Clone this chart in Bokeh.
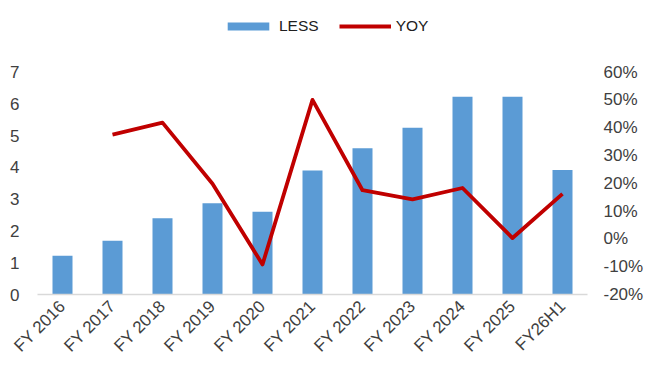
from bokeh.plotting import figure
from bokeh.models import (ColumnDataSource, Range1d, LinearAxis, FactorRange,
                          Legend, LegendItem, PrintfTickFormatter, FixedTicker)
from bokeh.embed import file_html
from bokeh.resources import INLINE

categories = ["FY 2016", "FY 2017", "FY 2018", "FY 2019", "FY 2020", "FY 2021",
              "FY 2022", "FY 2023", "FY 2024", "FY 2025", "FY26H1"]
less = [1.22, 1.69, 2.40, 2.87, 2.60, 3.90, 4.60, 5.25, 6.22, 6.22, 3.92]
yoy_cats = categories[1:]
yoy = [37.5, 41.8, 19.8, -9.2, 50.0, 17.5, 14.2, 18.3, 0.3, 16.2]
left_ticks = [0, 1, 2, 3, 4, 5, 6, 7]
right_ticks = [-20, -10, 0, 10, 20, 30, 40, 50, 60]

FONT = "Liberation Sans"
TXT = "#404040"

# frame spans the full top; the tick ranges occupy the lower 224 px of 296
ext = 296 / 224
p = figure(width=646, height=365, x_range=FactorRange(*categories, range_padding=0),
           y_range=Range1d(0, 7 * ext), output_backend="svg", toolbar_location=None,
           min_border_left=37, min_border_right=57, min_border_top=0, min_border_bottom=69)
p.x_range.factor_padding = 0
p.extra_y_ranges = {"yoy": Range1d(-20, -20 + 80 * ext)}

bar_src = ColumnDataSource(dict(x=categories, top=less))
line_src = ColumnDataSource(dict(x=yoy_cats, y=yoy))

bars = p.vbar(x="x", top="top", width=0.4, source=bar_src, color="#5B9BD5", line_color=None)
line = p.line(x="x", y="y", source=line_src, y_range_name="yoy", color="#C00000",
              line_width=3.8, line_join="round")

p.outline_line_color = None
p.xgrid.visible = False
p.ygrid.visible = False
p.background_fill_color = "white"
p.border_fill_color = "white"

# left axis
ya = p.yaxis[0]
ya.ticker = FixedTicker(ticks=left_ticks)
ya.axis_line_color = None
ya.major_tick_line_color = None
ya.minor_tick_line_color = None
ya.major_label_text_font = FONT
ya.major_label_text_font_size = "17px"
ya.major_label_text_color = TXT
ya.major_label_standoff = 12

# right axis
ra = LinearAxis(y_range_name="yoy", ticker=FixedTicker(ticks=right_ticks),
                formatter=PrintfTickFormatter(format="%d%%"))
ra.axis_line_color = None
ra.major_tick_line_color = None
ra.minor_tick_line_color = None
ra.major_label_text_font = FONT
ra.major_label_text_font_size = "17px"
ra.major_label_text_color = TXT
ra.major_label_standoff = 10
p.add_layout(ra, "right")

# x axis
xa = p.xaxis[0]
xa.axis_line_color = "#D9D9D9"
xa.axis_line_width = 1.5
xa.major_tick_line_color = None
xa.minor_tick_line_color = None
xa.major_label_orientation = 0.785398
xa.major_label_text_font = FONT
xa.major_label_text_font_size = "17px"
xa.major_label_text_color = TXT
xa.major_label_standoff = 3

legend = Legend(items=[LegendItem(label="LESS", renderers=[bars]),
                       LegendItem(label="YOY", renderers=[line])],
                orientation="horizontal", location=(185, 259))
legend.label_text_font = FONT
legend.label_text_font_size = "15.5px"
legend.label_text_color = "#202020"
legend.glyph_width = 52
legend.glyph_height = 10
legend.label_height = 18
legend.spacing = 20
legend.label_standoff = 5
legend.padding = 0
legend.margin = 0
legend.border_line_color = None
legend.background_fill_alpha = 0
p.add_layout(legend, "center")

open("out.html", "w").write(file_html(p, INLINE))
